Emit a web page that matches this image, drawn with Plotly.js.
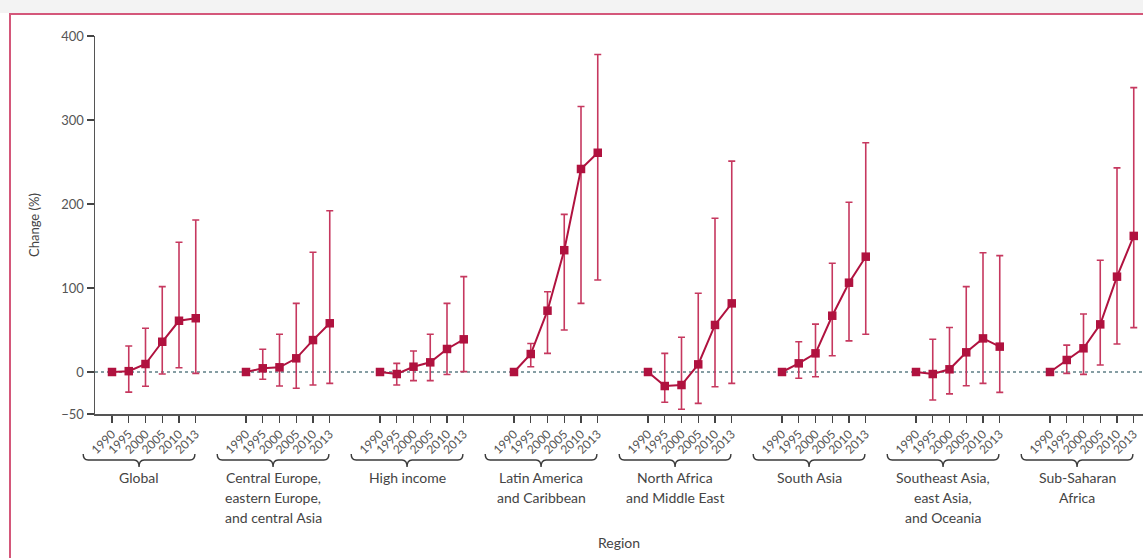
<!DOCTYPE html>
<html><head><meta charset="utf-8">
<script src="https://cdn.plot.ly/plotly-3.0.1.min.js"></script>
<style>
html,body{margin:0;padding:0;background:#fff;width:1143px;height:558px;overflow:hidden}
#topstrip{position:absolute;left:0;top:0;width:1143px;height:13px;background:#f3f3f3}
#frame{position:absolute;left:9px;top:13px;width:1200px;height:600px;border:2px solid #d4577a;box-sizing:border-box}
#chart{position:absolute;left:0;top:0;width:1143px;height:558px}
</style></head><body>
<div id="topstrip"></div><div id="frame"></div><div id="chart"></div>
<script>
const regions = ["Global", "Central Europe,<br>eastern Europe,<br>and central Asia", "High income",
  "Latin America<br>and Caribbean", "North Africa<br>and Middle East", "South Asia",
  "Southeast Asia,<br>east Asia,<br>and Oceania", "Sub-Saharan<br>Africa"];
const years = ["1990", "1995", "2000", "2005", "2010", "2013"];
const yTicks = [400, 300, 200, 100, 0, -50];
// change (%) per region, per year
const changeMean = [
  [0, 1, 9.5, 36, 61, 64],
  [0, 4.4, 5.6, 16.3, 38, 58],
  [0, -2.4, 6.3, 11.5, 27.4, 38.9],
  [0, 21.4, 73, 145, 241.7, 261],
  [0, -16.7, -15.5, 9.1, 56, 81.7],
  [0, 10.3, 22.2, 67, 106.3, 137.3],
  [0, -2.4, 3.2, 23.4, 40, 30.2],
  [0, 14.3, 28.2, 56.7, 113.5, 162]
];
const changeLower = [
  [null, -24, -17, -2.4, 5, -1.6],
  [null, -8.7, -16.7, -19.4, -15.5, -13.5],
  [null, -15.5, -10.3, -10.3, -3, 0.4],
  [null, 6.3, 22.2, 50, 81.7, 109.5],
  [null, -36, -44.4, -37.3, -17.5, -13.5],
  [null, -7.5, -5.6, 19.4, 37, 45],
  [null, -33.3, -26, -16.3, -13.5, -24.2],
  [null, -1.6, -2.8, 8.3, 33.3, 52.8]
];
const changeUpper = [
  [null, 31, 52, 101.6, 154.4, 181],
  [null, 27, 45, 81.7, 142.5, 192],
  [null, 10.3, 25, 45, 81.7, 113.5],
  [null, 34, 95.6, 187.7, 316, 378],
  [null, 22.2, 41.3, 93.7, 183, 251],
  [null, 36, 57, 129.4, 202, 273],
  [null, 38.9, 53, 101.6, 142, 138.5],
  [null, 32, 69, 133, 243, 338.5]
];

const FONT = "Lato, 'Open Sans', sans-serif";
const mainColor = "#b0123f";
const errColor = "#c6385f";
const slotsPerGroup = 8;
const xmin = -1.015, xmax = 61.552;
const W = 1143, H = 558, ML = 95, MT = 36, MB = 144;
const plotH = H - MT - MB;
const pxToPaperY = py => (H - MB - py) / plotH;
const slotToPaperX = s => (s - xmin) / (xmax - xmin);

const traces = [];
const tickvals = [], ticktext = [];
const shapes = [];
const annotations = [];

regions.forEach((r, g) => {
  const xs = years.map((_, k) => g * slotsPerGroup + k);
  xs.forEach((x, k) => { tickvals.push(x); ticktext.push(years[k]); });
  const m = changeMean[g];
  const up = changeUpper[g].map((u, k) => u === null ? NaN : u - m[k]);
  const lo = changeLower[g].map((l, k) => l === null ? NaN : m[k] - l);
  traces.push({
    type: "scatter", mode: "lines+markers", x: xs, y: m, name: r.replace(/<br>/g, " "),
    line: {color: mainColor, width: 2},
    marker: {symbol: "square", size: 8.5, color: mainColor},
    error_y: {type: "data", symmetric: false, array: up, arrayminus: lo,
      color: errColor, thickness: 1.6, width: 3.5},
    showlegend: false, hoverinfo: "x+y"
  });
  // brace
  const s0 = g * slotsPerGroup;
  const xL = slotToPaperX(s0 - 1.72), xR = slotToPaperX(s0 + 4.95);
  const xC = (xL + xR) / 2;
  const d = 5 / (W - ML);
  const yE = pxToPaperY(454), yB = pxToPaperY(460), yT = pxToPaperY(467);
  const path = `M ${xL},${yE} Q ${xL},${yB} ${xL + d},${yB} L ${xC - d},${yB} Q ${xC},${yB} ${xC},${yT} ` +
    `Q ${xC},${yB} ${xC + d},${yB} L ${xR - d},${yB} Q ${xR},${yB} ${xR},${yE}`;
  shapes.push({type: "path", xref: "paper", yref: "paper", path: path,
    line: {color: "#3a3a3a", width: 1.4}});
  r.split("<br>").forEach((line, li) => {
    annotations.push({xref: "paper", yref: "paper", x: xC, y: pxToPaperY(477 + li * 20),
      xanchor: "center", yanchor: "middle", showarrow: false, text: line,
      font: {family: FONT, size: 14, color: "#444"}});
  });
});

shapes.push({type: "line", xref: "paper", yref: "y", x0: 0, x1: 1, y0: 0, y1: 0,
  layer: "below", line: {color: "#5f7f86", width: 1.5, dash: "dot"}});

const layout = {
  width: W, height: H,
  margin: {l: ML, r: 0, t: MT, b: MB},
  paper_bgcolor: "rgba(0,0,0,0)", plot_bgcolor: "rgba(0,0,0,0)",
  font: {family: FONT, color: "#444"},
  xaxis: {range: [xmin, xmax], tickmode: "array", tickvals: tickvals, ticktext: ticktext,
    tickangle: -45, ticks: "outside", ticklen: 7, tickwidth: 1.3, tickcolor: "#444",
    showline: true, linecolor: "#555", linewidth: 1.5, showgrid: false, zeroline: false,
    tickfont: {family: FONT, size: 12, color: "#555"},
    title: {text: "Region", font: {family: FONT, size: 14, color: "#444"}, standoff: 82}},
  yaxis: {range: [-50, 400], tickmode: "array", tickvals: yTicks,
    ticks: "outside", ticklen: 7, tickwidth: 1.3, tickcolor: "#444",
    showline: true, linecolor: "#555", linewidth: 1.5, showgrid: false, zeroline: false,
    tickfont: {family: FONT, size: 13, color: "#555"},
    title: {text: "Change (%)", font: {family: FONT, size: 13, color: "#444"}, standoff: 18}},
  shapes: shapes, annotations: annotations
};
Plotly.newPlot("chart", traces, layout, {displayModeBar: false, staticPlot: true});
</script>
</body></html>
